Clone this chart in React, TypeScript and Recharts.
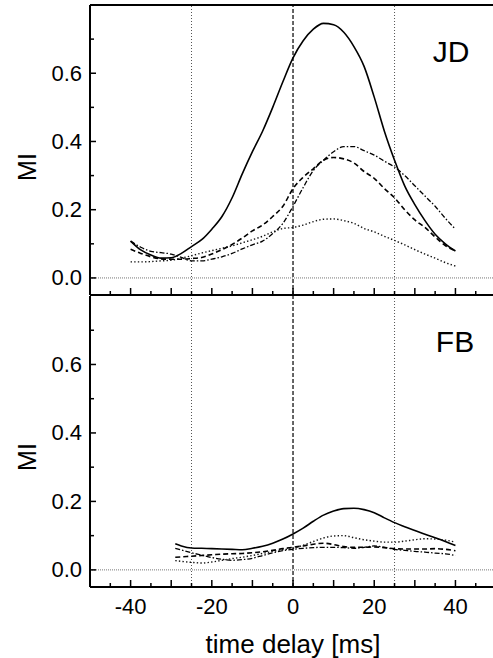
import React from 'react';
import { LineChart, Line, XAxis, YAxis, ReferenceLine } from 'recharts';

// time delay [ms]
const delayJD = [-40, -37.5, -35, -32.5, -30, -27.5, -25, -22.5, -20, -17.5, -15, -12.5, -10, -7.5, -5, -2.5, 0, 2.5, 5, 7.5, 10, 12.5, 15, 17.5, 20, 22.5, 25, 27.5, 30, 32.5, 35, 37.5, 40];
const jdSolid = [0.108, 0.082, 0.067, 0.058, 0.059, 0.072, 0.092, 0.112, 0.143, 0.18, 0.235, 0.305, 0.37, 0.43, 0.5, 0.575, 0.645, 0.695, 0.729, 0.746, 0.742, 0.72, 0.678, 0.62, 0.53, 0.43, 0.345, 0.27, 0.215, 0.168, 0.128, 0.1, 0.079];
const jdDashed = [0.084, 0.072, 0.062, 0.056, 0.055, 0.055, 0.057, 0.06, 0.07, 0.083, 0.098, 0.117, 0.138, 0.155, 0.18, 0.21, 0.262, 0.295, 0.32, 0.345, 0.353, 0.349, 0.337, 0.312, 0.292, 0.262, 0.235, 0.2, 0.17, 0.148, 0.12, 0.095, 0.079];
const jdDashDot = [0.108, 0.09, 0.078, 0.074, 0.07, 0.06, 0.05, 0.05, 0.055, 0.062, 0.072, 0.085, 0.097, 0.108, 0.13, 0.16, 0.21, 0.265, 0.315, 0.345, 0.37, 0.385, 0.385, 0.373, 0.36, 0.342, 0.325, 0.3, 0.27, 0.24, 0.21, 0.175, 0.143];
const jdDotted = [0.047, 0.047, 0.048, 0.05, 0.052, 0.058, 0.065, 0.073, 0.08, 0.087, 0.094, 0.103, 0.112, 0.122, 0.135, 0.145, 0.148, 0.155, 0.165, 0.172, 0.173, 0.168, 0.16, 0.145, 0.135, 0.122, 0.11, 0.097, 0.083, 0.07, 0.058, 0.045, 0.035];

const delayFB = [-29, -27.5, -25, -22.5, -20, -17.5, -15, -12.5, -10, -7.5, -5, -2.5, 0, 2.5, 5, 7.5, 10, 12.5, 15, 17.5, 20, 22.5, 25, 27.5, 30, 32.5, 35, 37.5, 40];
const fbSolid = [0.076, 0.07, 0.064, 0.063, 0.062, 0.061, 0.06, 0.059, 0.063, 0.069, 0.078, 0.09, 0.105, 0.122, 0.142, 0.16, 0.172, 0.179, 0.18, 0.176, 0.167, 0.152, 0.138, 0.126, 0.115, 0.104, 0.094, 0.083, 0.071];
const fbDashed = [0.037, 0.038, 0.04, 0.042, 0.044, 0.046, 0.047, 0.048, 0.05, 0.053, 0.057, 0.062, 0.066, 0.07, 0.075, 0.078, 0.074, 0.068, 0.066, 0.066, 0.067, 0.065, 0.062, 0.061, 0.061, 0.061, 0.062, 0.06, 0.056];
const fbDashDot = [0.063, 0.058, 0.05, 0.043, 0.036, 0.031, 0.028, 0.03, 0.034, 0.042, 0.05, 0.056, 0.06, 0.063, 0.065, 0.066, 0.066, 0.065, 0.063, 0.066, 0.07, 0.066, 0.06, 0.057, 0.054, 0.052, 0.049, 0.047, 0.042];
const fbDotted = [0.027, 0.025, 0.022, 0.02, 0.023, 0.028, 0.033, 0.037, 0.042, 0.048, 0.054, 0.059, 0.063, 0.072, 0.083, 0.093, 0.099, 0.1, 0.094, 0.088, 0.084, 0.081, 0.081, 0.084, 0.088, 0.091, 0.09, 0.087, 0.081];

// the visible window ends just before +50 ms
const xDomain = [-50, 49.25];
const xTicks = [-45, -40, -35, -30, -25, -20, -15, -10, -5, 0, 5, 10, 15, 20, 25, 30, 35, 40, 45];
const xLabelTicks = [-40, -20, 0, 20, 40];
const yDomain = [-0.05, 0.8];
const yTicks = [0, 0.1, 0.2, 0.3, 0.4, 0.5, 0.6, 0.7];
const yLabelTicks = [0, 0.2, 0.4, 0.6];
const guideLines = [-25, 25];

const FONT = '"Liberation Sans", Arial, Helvetica, sans-serif';

const buildRows = (xs: number[], a: number[], b: number[], c: number[], d: number[]) =>
  xs.map((t, i) => ({ t, solid: a[i], dashed: b[i], dashdot: c[i], dotted: d[i] }));

const jdRows = buildRows(delayJD, jdSolid, jdDashed, jdDashDot, jdDotted);
const fbRows = buildRows(delayFB, fbSolid, fbDashed, fbDashDot, fbDotted);

const XTickNoLabel = (props: any) => {
  const { x, y, payload } = props;
  const v = payload.value;
  const major = Math.abs(v) % 10 === 0;
  return (
    <g>
      <line x1={x} x2={x} y1={y} y2={y - (major ? 7 : 4)} stroke="#000" strokeWidth={1.5} />
    </g>
  );
};

const XTickLabel = (props: any) => {
  const { x, y, payload } = props;
  const v = payload.value;
  const major = Math.abs(v) % 10 === 0;
  const label = xLabelTicks.includes(v);
  return (
    <g>
      <line x1={x} x2={x} y1={y} y2={y - (major ? 7 : 4)} stroke="#000" strokeWidth={1.5} />
      {label && (
        <text x={x} y={y + 19} textAnchor="middle" dominantBaseline="central" fontSize={22} fontFamily={FONT} fill="#000">
          {v}
        </text>
      )}
    </g>
  );
};

const YTick = (props: any) => {
  const { x, y, payload } = props;
  const v = payload.value;
  const label = yLabelTicks.some((l) => Math.abs(l - v) < 1e-6);
  return (
    <g>
      <line x1={x} x2={x + (label ? 6 : 4)} y1={y} y2={y} stroke="#000" strokeWidth={1.5} />
      {label && (
        <text x={x - 8} y={y} textAnchor="end" dominantBaseline="central" fontSize={22} fontFamily={FONT} fill="#000">
          {v.toFixed(1)}
        </text>
      )}
    </g>
  );
};

const series = [
  { key: 'solid', dash: undefined as string | undefined, width: 1.6, color: '#000' },
  { key: 'dashed', dash: '5 3', width: 1.6, color: '#000' },
  { key: 'dashdot', dash: '5 2 1.5 2', width: 1.3, color: '#000' },
  { key: 'dotted', dash: '1.4 2.2', width: 1.4, color: '#111' },
];

const renderLines = () =>
  series.map((s) => (
    <Line
      key={s.key}
      type="monotone"
      dataKey={s.key}
      stroke={s.color}
      strokeWidth={s.width}
      strokeDasharray={s.dash}
      dot={false}
      activeDot={false}
      isAnimationActive={false}
    />
  ));

const renderGuides = () => [
  <ReferenceLine key="h0" y={0} stroke="#777" strokeWidth={1} strokeDasharray="1 1" />,
  ...guideLines.map((g) => (
    <ReferenceLine key={'g' + g} x={g} stroke="#555" strokeWidth={1} strokeDasharray="1 2" />
  )),
  <ReferenceLine key="v0" x={0} stroke="#333" strokeWidth={1.5} strokeDasharray="4 2" />,
];

const textStyle: React.CSSProperties = {
  position: 'absolute',
  fontFamily: FONT,
  color: '#000',
  whiteSpace: 'nowrap',
  lineHeight: 1,
};

export default function App() {
  return (
    <div style={{ position: 'absolute', left: 0, top: 0, width: 493, height: 658, background: '#fff' }}>
      <div style={{ position: 'absolute', left: 0, top: 0 }}>
        <LineChart width={493} height={300} data={jdRows} margin={{ top: 5, right: 0, left: 30, bottom: 4 }}>
          <XAxis
            type="number"
            dataKey="t"
            domain={xDomain}
            ticks={xTicks}
            interval={0}
            height={1}
            tickSize={0}
            tickMargin={0}
            tickLine={false}
            tick={XTickNoLabel}
            axisLine={{ stroke: '#000', strokeWidth: 2 }}
          />
          <YAxis
            type="number"
            domain={yDomain}
            ticks={yTicks}
            interval={0}
            width={60}
            tickSize={0}
            tickMargin={0}
            tickLine={false}
            tick={YTick}
            axisLine={{ stroke: '#000', strokeWidth: 2 }}
          />
          {renderGuides()}
          <ReferenceLine y={0.8} stroke="#000" strokeWidth={2} ifOverflow="visible" />
          {renderLines()}
        </LineChart>
      </div>
      <div style={{ position: 'absolute', left: 0, top: 291 }}>
        <LineChart width={493} height={367} data={fbRows} margin={{ top: 5, right: 0, left: 30, bottom: 0 }}>
          <XAxis
            type="number"
            dataKey="t"
            domain={xDomain}
            ticks={xTicks}
            interval={0}
            height={71}
            tickSize={0}
            tickMargin={0}
            tickLine={false}
            tick={XTickLabel}
            axisLine={{ stroke: '#000', strokeWidth: 2 }}
          />
          <YAxis
            type="number"
            domain={yDomain}
            ticks={yTicks}
            interval={0}
            width={60}
            tickSize={0}
            tickMargin={0}
            tickLine={false}
            tick={YTick}
            axisLine={{ stroke: '#000', strokeWidth: 2 }}
          />
          {renderGuides()}
          {renderLines()}
        </LineChart>
      </div>
      <div style={{ ...textStyle, left: 27, top: 167, fontSize: 25, transform: 'translate(-50%, -50%) rotate(-90deg)' }}>MI</div>
      <div style={{ ...textStyle, left: 27, top: 457, fontSize: 25, transform: 'translate(-50%, -50%) rotate(-90deg)' }}>MI</div>
      <div style={{ ...textStyle, left: 451, top: 52, fontSize: 30, transform: 'translate(-50%, -50%)' }}>JD</div>
      <div style={{ ...textStyle, left: 455, top: 342, fontSize: 30, transform: 'translate(-50%, -50%)' }}>FB</div>
      <div style={{ ...textStyle, left: 293, top: 644, fontSize: 26, transform: 'translate(-50%, -50%)' }}>time delay [ms]</div>
    </div>
  );
}
